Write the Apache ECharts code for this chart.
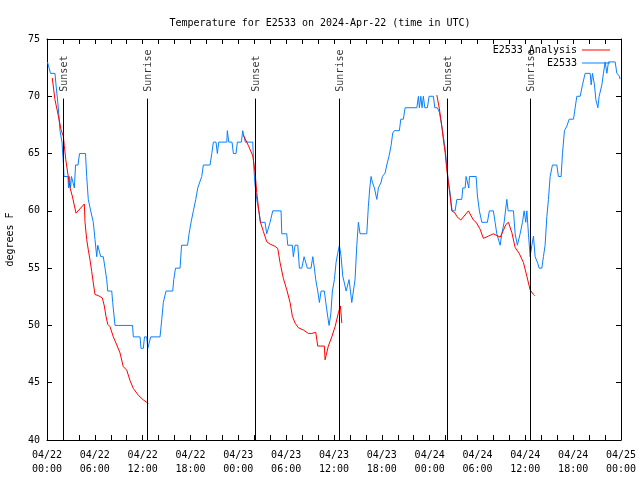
<!DOCTYPE html>
<html>
<head>
<meta charset="utf-8">
<script src="https://cdn.jsdelivr.net/npm/echarts@6/dist/echarts.min.js"></script>
<style>
html,body{margin:0;padding:0;background:#fff;}
#chart{width:640px;height:480px;}
</style>
</head>
<body>
<div id="chart"></div>
<script>
const titleText = 'Temperature for E2533 on 2024-Apr-22 (time in UTC)';
const yAxisName = 'degrees F';
const xTickLabels = ['04/22\n00:00','04/22\n06:00','04/22\n12:00','04/22\n18:00','04/23\n00:00','04/23\n06:00','04/23\n12:00','04/23\n18:00','04/24\n00:00','04/24\n06:00','04/24\n12:00','04/24\n18:00','04/25\n00:00'];
const seriesNames = ['E2533 Analysis', 'E2533'];

// hours since 04/22 00:00 UTC
const sunEventHours = [2.05, 12.58, 26.14, 36.67, 50.23, 60.64];
const sunEventNames = ['Sunset', 'Sunrise', 'Sunset', 'Sunrise', 'Sunset', 'Sunrise'];

const blueHours = [0.06,0.31,0.44,1.00,1.13,1.42,1.63,1.88,2.07,2.13,2.63,2.70,2.82,2.95,3.07,3.32,3.43,3.58,3.89,4.08,4.83,4.98,5.18,5.48,5.81,6.02,6.24,6.36,6.59,6.74,7.06,7.28,7.49,7.62,8.12,8.24,8.41,8.53,10.73,10.83,11.67,11.79,12.08,12.23,12.51,12.64,12.84,13.01,14.18,14.39,14.59,14.93,15.77,15.90,16.12,16.69,16.88,17.63,17.82,18.07,18.36,18.66,18.91,19.41,19.61,20.45,20.67,20.87,21.20,21.37,21.54,22.55,22.62,22.80,23.21,23.38,23.71,23.88,24.38,24.55,24.72,24.88,25.81,25.93,26.06,26.31,26.56,26.81,27.35,27.56,27.79,27.98,28.32,29.36,29.45,30.07,30.20,30.78,30.90,31.12,31.46,31.66,31.96,32.25,32.50,32.66,33.12,33.34,33.54,33.71,33.96,34.17,34.38,34.79,34.97,35.17,35.38,35.60,35.80,36.05,36.26,36.47,36.68,36.89,37.10,37.30,37.52,37.77,37.89,38.06,38.23,38.48,38.64,38.86,39.06,39.27,40.11,40.31,40.49,40.65,40.82,41.07,41.37,41.57,41.91,42.07,42.41,42.62,42.91,43.16,43.37,43.58,44.20,44.38,44.70,44.92,46.39,46.59,46.71,46.89,47.05,47.21,47.39,47.72,47.93,48.47,48.64,48.97,49.22,49.52,49.72,49.94,50.15,50.35,50.56,50.69,50.82,51.19,51.41,52.03,52.16,52.45,52.57,52.82,52.91,52.99,53.83,53.99,54.24,54.54,55.24,55.49,55.99,56.21,56.42,56.84,57.05,57.34,57.68,57.84,58.51,58.72,59.00,59.35,59.64,59.85,60.06,60.19,60.39,60.60,60.82,61.02,61.23,61.57,61.73,62.07,62.27,62.48,62.70,62.90,63.11,63.40,63.95,64.15,64.49,64.66,64.91,65.21,65.50,66.04,66.25,66.46,66.88,67.17,67.50,68.13,68.26,68.42,68.67,68.85,69.10,69.26,69.60,69.80,70.01,70.23,70.43,71.27,71.48,71.77,71.89];
const blueTemps = [73,73,72,72,71,69,67,66,64,63,63,62,63,62,63,63,62,64,64,65,65,63,61,60,59,57.5,56,57,57,56,56,55,54,53,53,52,52,50,50,49,49,48,48,49,49,48,48,49,49,50.5,52,53,53,54,55,55,57,57,58,59,60,61,62,63,64,64,65,66,66,65,66,66,67,66,66,65,65,66,66,67,67,66,66,64,62.5,61,60,59,59,58,58,59,60,60,58,58,57,57,56,57,57,55,55,56,56,55,55,56,55,54,53,52,53,53,52,51,50,51,53,54,55.5,56.3,57,56,54.3,53.7,53,53,54,53,52,52,54,57,59,58,58,60.4,62,63,62.5,62,61,62,62.5,63,63.3,64,64.8,65.7,66.8,67,67,68,68,69,69,70,69,70,69,70,69,69,70,70,69,69,68.6,67.4,66.5,65.4,63.9,62.5,61.6,60.7,60,60,61,61,62,62,63,63,62,63,63,61.3,60,59,59,60,60,59,58,57,58,59,61,60,60,58,57,58,59,60,59,60,58,56,57,57.8,56,55.4,55,55,56,57,59.5,61,63,64,64,63,63,65,67,67.4,68,68,69,70,70,71,72,72,71,72,71,69.7,69,70,71,72,73,72,73,73,72,71.8,71.5];

// null separates the analysis periods
const redHours = [0.66,1.00,1.42,1.76,2.05,2.17,2.35,2.60,2.89,3.17,3.64,4.68,4.77,4.98,5.18,5.40,5.61,5.81,6.02,6.44,6.94,7.19,7.40,7.62,7.90,8.32,8.75,9.16,9.57,10.00,10.41,10.83,11.46,12.08,12.71,
  18.0,
  24.63,25.26,25.81,26.10,26.31,26.51,26.73,27.14,27.57,27.98,28.61,28.95,29.23,29.65,30.08,30.49,30.78,31.12,31.53,32.16,32.79,33.21,33.71,33.96,34.79,34.88,35.29,35.72,36.14,36.55,36.80,36.98,
  42.0,
  48.90,49.22,49.52,49.72,49.94,50.15,50.35,50.56,50.78,51.19,51.41,51.91,52.86,53.49,53.83,54.33,54.74,55.37,56.00,56.84,57.25,57.55,57.88,58.31,58.72,59.22,59.76,60.19,60.60,61.02,61.17];
const redTemps = [71.6,69.7,68.3,67.1,66.5,65.7,64.5,63.3,62.0,61.3,59.8,60.6,59.0,57.5,56.6,55.7,54.7,53.7,52.7,52.6,52.4,51.7,50.8,50.1,49.9,49.0,48.3,47.6,46.4,46.1,45.2,44.5,43.9,43.5,43.2,
  null,
  66.6,65.7,64.8,63.4,61.6,60.4,59.1,58.2,57.3,57.1,56.9,56.7,55.5,54.1,53.1,52.0,50.8,50.2,49.8,49.6,49.3,49.3,49.4,48.2,48.2,47.0,48.2,49.0,49.9,51.1,51.7,50.2,
  null,
  70.1,68.9,67.4,66.2,65.1,63.6,62.5,61.3,60.0,59.8,59.5,59.2,60.0,59.2,59.0,58.4,57.6,57.8,58.0,57.7,58.3,58.8,59.0,58.1,56.8,56.3,55.5,54.3,53.1,52.7,52.6];

const FONT = 'DejaVu Sans Mono';
const zip = (xs, ys) => xs.map((x, i) => [x, ys[i] === null ? '-' : ys[i]]);

const chart = echarts.init(document.getElementById('chart'), null, {renderer: 'canvas'});

const baseX = {
  type: 'value', min: 0, max: 72, interval: 6,
  axisLine: {show: true, onZero: false, lineStyle: {color: '#000', width: 1}},
  axisTick: {show: true, inside: true, length: 5, lineStyle: {color: '#000'}},
  minorTick: {show: true, splitNumber: 3, length: 5, lineStyle: {color: '#000'}},
  splitLine: {show: false}
};
const baseY = {
  type: 'value', min: 40, max: 75, interval: 5,
  axisLine: {show: true, onZero: false, lineStyle: {color: '#000', width: 1}},
  axisTick: {show: true, inside: true, length: 5, lineStyle: {color: '#000'}},
  splitLine: {show: false}
};

chart.setOption({
  animation: false,
  backgroundColor: '#fff',
  textStyle: {fontFamily: FONT, color: '#000'},
  title: {
    text: titleText, left: 'center', top: 13,
    textStyle: {fontFamily: FONT, fontSize: 10, fontWeight: 'normal', color: '#000'}
  },
  legend: {
    data: seriesNames,
    orient: 'vertical', right: 25, top: 40, align: 'right', padding: 5,
    icon: 'rect', itemWidth: 28, itemHeight: 1, itemGap: 3,
    textStyle: {fontFamily: FONT, fontSize: 10, color: '#000'}
  },
  grid: {left: 47, right: 19, top: 39, bottom: 40, containLabel: false, outerBoundsMode: 'none'},
  xAxis: [
    Object.assign({}, baseX, {
      position: 'bottom',
      axisLabel: {
        show: true, margin: 8, fontFamily: FONT, fontSize: 10, lineHeight: 14, color: '#000',
        formatter: v => xTickLabels[Math.round(v / 6)] || ''
      }
    }),
    Object.assign({}, baseX, {position: 'top', axisLabel: {show: false}})
  ],
  yAxis: [
    Object.assign({}, baseY, {
      position: 'left',
      name: yAxisName, nameLocation: 'middle', nameRotate: 90, nameGap: 32,
      nameTextStyle: {fontFamily: FONT, fontSize: 10, color: '#000'},
      axisLabel: {show: true, margin: 7, fontFamily: FONT, fontSize: 10, color: '#000'}
    }),
    Object.assign({}, baseY, {position: 'right', axisLabel: {show: false}})
  ],
  series: [
    {
      name: 'sun', type: 'scatter', xAxisIndex: 0, yAxisIndex: 0,
      symbolSize: 0, silent: true,
      data: sunEventHours.map((h, i) => ({value: [h, 70.4], name: sunEventNames[i]})),
      label: {
        show: true, formatter: p => p.name, rotate: 90, position: [1, 0],
        align: 'left', verticalAlign: 'middle',
        fontFamily: FONT, fontSize: 10, color: '#000'
      },
      markLine: {
        silent: true, symbol: 'none', animation: false,
        lineStyle: {color: '#000', width: 1, type: 'solid'},
        label: {show: false},
        data: sunEventHours.map(h => [{coord: [h, 40]}, {coord: [h, 69.8]}])
      },
      z: 1
    },
    {
      name: seriesNames[0], type: 'line', xAxisIndex: 0, yAxisIndex: 0,
      data: zip(redHours, redTemps), showSymbol: false, connectNulls: false,
      lineStyle: {color: '#ff0000', width: 1}, itemStyle: {color: '#ff0000'}, z: 3
    },
    {
      name: seriesNames[1], type: 'line', xAxisIndex: 0, yAxisIndex: 0,
      data: zip(blueHours, blueTemps), showSymbol: false,
      lineStyle: {color: '#0a80ff', width: 1}, itemStyle: {color: '#0a80ff'}, z: 2
    }
  ]
});
</script>
</body>
</html>
